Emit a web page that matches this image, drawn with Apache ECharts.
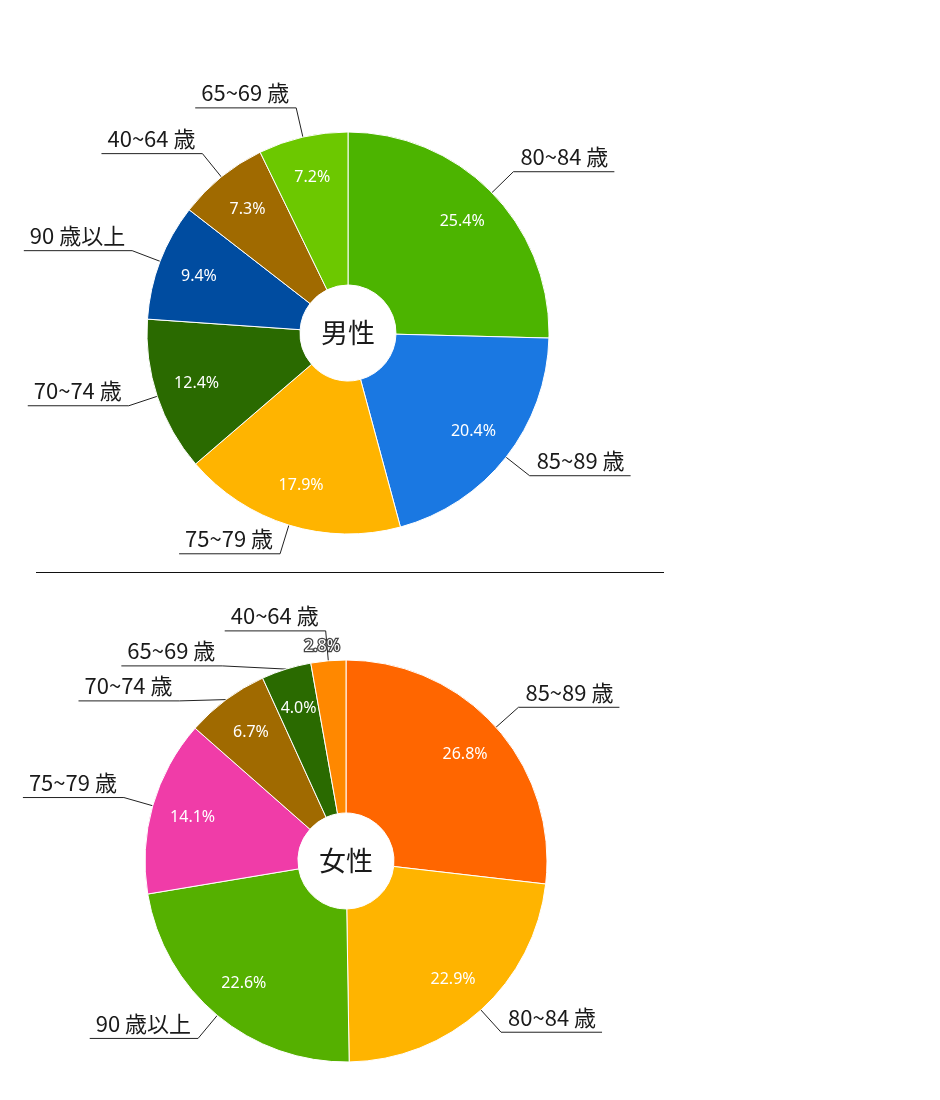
<!DOCTYPE html>
<html>
<head>
<meta charset="utf-8">
<title>年齢構成（男性・女性）</title>
<script src="https://cdn.jsdelivr.net/npm/echarts@6/dist/echarts.min.js"></script>
<style>
  html, body { margin: 0; padding: 0; background: #fff; }
  #chart { width: 940px; height: 1100px; }
</style>
</head>
<body>
<div id="chart"></div>
<script>
// 男性
var maleNames = ['80~84 歳', '85~89 歳', '75~79 歳', '70~74 歳', '90 歳以上', '40~64 歳', '65~69 歳'];
var maleValues = [25.4, 20.4, 17.9, 12.4, 9.4, 7.3, 7.2];
var maleColors = ['#4cb400', '#1a78e2', '#ffb400', '#2a6a00', '#004ca0', '#a06a00', '#6cc800'];

// 女性
var femaleNames = ['85~89 歳', '80~84 歳', '90 歳以上', '75~79 歳', '70~74 歳', '65~69 歳', '40~64 歳'];
var femaleValues = [26.8, 22.9, 22.6, 14.1, 6.7, 4.0, 2.8];
var femaleColors = ['#ff6600', '#ffb400', '#55b000', '#f03ca8', '#a06a00', '#2a6a00', '#ff8800'];

var JP_FONT = '"Noto Sans CJK JP", "Noto Sans", sans-serif';
var NUM_FONT = '"Noto Sans", "Open Sans", sans-serif';

var maleCenter = [348, 333];
var femaleCenter = [346, 861];
var radius = [48, 201];

var chart = echarts.init(document.getElementById('chart'));

function sliceData(names, values, colors) {
  return names.map(function (n, i) {
    return { name: n, value: values[i], itemStyle: { color: colors[i] } };
  });
}

// 小さすぎるスライスは外側に表示
function pctData(names, values) {
  return names.map(function (n, i) {
    var d = { name: n, value: values[i] };
    if (values[i] < 3) {
      d.label = { position: 'outside', textBorderColor: '#444', textBorderWidth: 2.5 };
      d.labelLine = { show: false, length: 14, length2: 0 };
    }
    return d;
  });
}

// ラベルの下線を文字幅まで伸ばす
function underline(params) {
  var pts = params.labelLinePoints;
  if (!pts) return {};
  var r = params.labelRect;
  var isLeft = pts[2][0] < pts[1][0];
  pts[2][0] = isLeft ? r.x : r.x + r.width;
  return { labelLinePoints: pts, dy: -15 };
}

function nameSeries(center, names, values, colors) {
  return {
    type: 'pie',
    center: center,
    radius: radius,
    startAngle: 90,
    avoidLabelOverlap: true,
    itemStyle: { borderColor: '#fff', borderWidth: 1 },
    label: {
      position: 'outside',
      formatter: '{b}',
      fontSize: 22,
      lineHeight: 24,
      fontFamily: JP_FONT,
      color: '#1a1a1a',
      padding: [0, 6, 0, 6],
      distanceToLabelLine: 0,
      minMargin: 11
    },
    labelLine: {
      show: true,
      length: 30,
      length2: 1,
      lineStyle: { color: '#222', width: 1 }
    },
    labelLayout: underline,
    emphasis: { disabled: true },
    data: sliceData(names, values, colors)
  };
}

function pctSeries(center, names, values) {
  return {
    type: 'pie',
    center: center,
    radius: [112, 201],
    startAngle: 90,
    silent: true,
    avoidLabelOverlap: false,
    itemStyle: { color: 'rgba(0,0,0,0)', borderWidth: 0 },
    label: {
      position: 'inside',
      formatter: function (p) { return p.value.toFixed(1) + '%'; },
      fontSize: 16,
      fontFamily: NUM_FONT,
      color: '#fff'
    },
    labelLine: { show: false },
    labelLayout: function () { return { align: 'center' }; },
    data: pctData(names, values)
  };
}

chart.setOption({
  animation: false,
  backgroundColor: '#fff',
  graphic: [
    {
      type: 'line',
      shape: { x1: 36, y1: 572.5, x2: 664, y2: 572.5 },
      style: { stroke: '#111', lineWidth: 1 }
    },
    {
      type: 'text', x: maleCenter[0], y: maleCenter[1], z: 10,
      style: { text: '男性', fontSize: 27, fontFamily: JP_FONT, fill: '#1a1a1a', align: 'center', verticalAlign: 'middle' }
    },
    {
      type: 'text', x: femaleCenter[0], y: femaleCenter[1], z: 10,
      style: { text: '女性', fontSize: 27, fontFamily: JP_FONT, fill: '#1a1a1a', align: 'center', verticalAlign: 'middle' }
    }
  ],
  series: [
    nameSeries(maleCenter, maleNames, maleValues, maleColors),
    pctSeries(maleCenter, maleNames, maleValues),
    nameSeries(femaleCenter, femaleNames, femaleValues, femaleColors),
    pctSeries(femaleCenter, femaleNames, femaleValues)
  ]
});
</script>
</body>
</html>
